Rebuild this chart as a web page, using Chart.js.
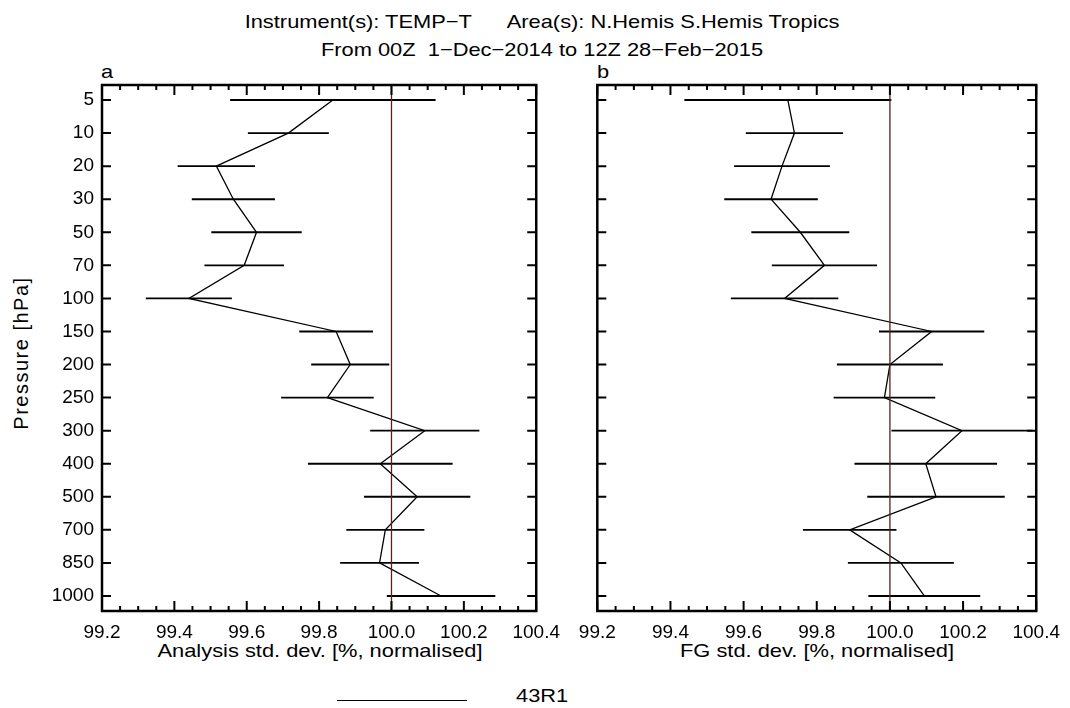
<!DOCTYPE html>
<html>
<head>
<meta charset="utf-8">
<script src="https://cdn.jsdelivr.net/npm/chart.js@4.4.1/dist/chart.umd.min.js"></script>
<style>
    body { margin: 0; background: #fff; width: 1070px; height: 708px; position: relative; overflow: hidden;
           font-family: "Liberation Sans", Arial, sans-serif; color: #000; }
    canvas { position: absolute; top: 0; }
    .t { position: absolute; white-space: pre; font-size: 19px; line-height: 1; }
    .c { text-align: center; transform: scaleX(1.15); }
    .l { transform: scaleX(1.15); transform-origin: left center; }
</style>
</head>
<body>
<div class="t c" style="left:42px;width:1000px;top:11.5px">Instrument(s): TEMP−T      Area(s): N.Hemis S.Hemis Tropics</div>
<div class="t c" style="left:42px;width:1000px;top:39.5px">From 00Z  1−Dec−2014 to 12Z 28−Feb−2015</div>
<div class="t l" style="left:101px;top:62px">a</div>
<div class="t l" style="left:597px;top:62px">b</div>
<div class="t" style="left:-79.3px;top:342.5px;width:200px;height:20px;font-size:20px;letter-spacing:1.5px;text-align:center;transform:rotate(-90deg)">Pressure [hPa]</div>
<div class="t c" style="left:119.5px;width:400px;top:640.5px">Analysis std. dev. [%, normalised]</div>
<div class="t c" style="left:617px;width:400px;top:640.5px">FG std. dev. [%, normalised]</div>
<div style="position:absolute;left:337px;top:700px;width:130px;height:1.3px;background:#000"></div>
<div class="t l" style="left:516px;top:685.5px">43R1</div>

<canvas id="chartA" width="570" height="708" style="left:0"></canvas>
<canvas id="chartB" width="510" height="708" style="left:560px"></canvas>

<script>
// pressure levels (hPa), top to bottom
const levels = ['5', '10', '20', '30', '50', '70', '100', '150', '200', '250', '300', '400', '500', '700', '850', '1000'];
const xTicks = [99.2, 99.4, 99.6, 99.8, 100.0, 100.2, 100.4];
const refValue = 100.0;
const yMin = -0.454, yMax = 15.454;

// panel a: analysis std. dev.
const anValues = [99.838, 99.715, 99.516, 99.563, 99.627, 99.593, 99.440, 99.847, 99.886, 99.823,
                  100.092, 99.969, 100.071, 99.983, 99.967, 100.137];
const anErrors = [0.283, 0.111, 0.106, 0.114, 0.124, 0.109, 0.118, 0.101, 0.107, 0.127,
                  0.150, 0.199, 0.146, 0.107, 0.108, 0.149];

// panel b: first guess std. dev.
const fgValues = [99.721, 99.739, 99.705, 99.675, 99.755, 99.821, 99.712, 100.114, 100.000, 99.985,
                  100.197, 100.098, 100.126, 99.890, 100.030, 100.094];
const fgErrors = [0.282, 0.132, 0.130, 0.127, 0.133, 0.143, 0.146, 0.143, 0.144, 0.138,
                  0.192, 0.194, 0.187, 0.127, 0.144, 0.152];

const FONT = { family: '"Liberation Sans", Arial, sans-serif', size: 19 };

// frame + inward ticks on all four sides
const framePlugin = {
    id: 'frame',
    afterDatasetsDraw(chart) {
        const { ctx, chartArea: a, scales: { x, y } } = chart;
        ctx.save();
        ctx.strokeStyle = '#000';
        ctx.lineWidth = 2;
        ctx.beginPath();
        const xTick = (v, len) => {
            const px = x.getPixelForValue(v);
            ctx.moveTo(px, a.top); ctx.lineTo(px, a.top + len);
            ctx.moveTo(px, a.bottom); ctx.lineTo(px, a.bottom - len);
        };
        xTicks.forEach((t, k) => {
            xTick(t, 10);
            if (k < xTicks.length - 1) {
                const step = (xTicks[k + 1] - t) / 4;
                for (let m = 1; m < 4; m++) xTick(t + m * step, 5);
            }
        });
        levels.forEach((_, i) => {
            const py = y.getPixelForValue(i);
            ctx.moveTo(a.left, py); ctx.lineTo(a.left + 9, py);
            ctx.moveTo(a.right, py); ctx.lineTo(a.right - 9, py);
        });
        ctx.stroke();
        ctx.lineWidth = 2.5;
        ctx.strokeRect(a.left, a.top, a.right - a.left, a.bottom - a.top);
        ctx.restore();
    }
};

function makeChart(id, values, errors, yWidth, padRight, showLabels) {
    return new Chart(document.getElementById(id), {
        type: 'bar',
        data: {
            datasets: [
                {
                    type: 'line',
                    data: [{ x: refValue, y: yMin }, { x: refValue, y: yMax }],
                    borderColor: '#5c1f1f',
                    borderWidth: 1.3,
                    pointRadius: 0
                },
                {
                    type: 'bar',
                    indexAxis: 'y',
                    data: values.map((v, i) => ({ x: [v - errors[i], v + errors[i]], y: i })),
                    backgroundColor: '#000',
                    borderWidth: 0,
                    barThickness: 1.2
                },
                {
                    type: 'line',
                    data: values.map((v, i) => ({ x: v, y: i })),
                    borderColor: '#000',
                    borderWidth: 1.3,
                    pointRadius: 0,
                    tension: 0
                }
            ]
        },
        options: {
            responsive: false,
            animation: false,
            devicePixelRatio: 1,
            layout: { padding: { left: 0, top: 85, right: padRight, bottom: 57 } },
            plugins: { legend: { display: false }, tooltip: { enabled: false } },
            scales: {
                x: {
                    type: 'linear',
                    offset: false,
                    min: xTicks[0],
                    max: xTicks[xTicks.length - 1],
                    grid: { display: false, drawTicks: false, offset: false },
                    border: { display: false },
                    afterBuildTicks: s => { s.ticks = xTicks.map(v => ({ value: v })); },
                    afterFit: s => { s.height = 40; },
                    ticks: {
                        autoSkip: false, maxRotation: 0, padding: 10, color: '#000', font: FONT,
                        callback: v => Number(v).toFixed(1)
                    }
                },
                y: {
                    type: 'linear',
                    offset: false,
                    reverse: true,
                    min: yMin,
                    max: yMax,
                    grid: { display: false, drawTicks: false, offset: false },
                    border: { display: false },
                    afterBuildTicks: s => { s.ticks = levels.map((_, i) => ({ value: i })); },
                    afterFit: s => { s.width = yWidth; },
                    ticks: {
                        display: showLabels, autoSkip: false, padding: 8, color: '#000', font: FONT,
                        callback: v => levels[v] ?? ''
                    }
                }
            }
        },
        plugins: [framePlugin]
    });
}

makeChart('chartA', anValues, anErrors, 102, 31, true);
makeChart('chartB', fgValues, fgErrors, 37.3, 33.3, false);
</script>
</body>
</html>
